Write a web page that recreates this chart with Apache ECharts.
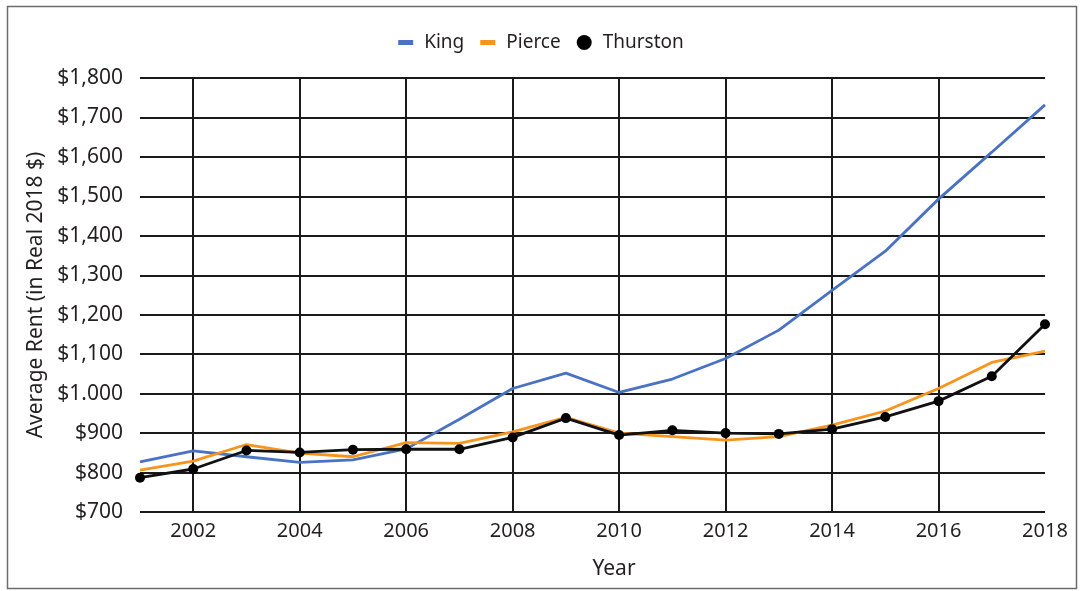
<!DOCTYPE html>
<html>
<head>
<meta charset="utf-8">
<script src="https://cdn.jsdelivr.net/npm/echarts@6/dist/echarts.min.js"></script>
<style>
  html, body { margin: 0; padding: 0; background: #fff; }
  #main { width: 1082px; height: 591px; }
</style>
</head>
<body>
<div id="main"></div>
<script>
// data
const years = [2001, 2002, 2003, 2004, 2005, 2006, 2007, 2008, 2009,
  2010, 2011, 2012, 2013, 2014, 2015, 2016, 2017, 2018];
const king = [827, 855, 840, 826, 832, 860, 935, 1013, 1052,
  1003, 1037, 1089, 1161, 1262, 1361, 1493, 1612, 1732];
const pierce = [806, 829, 871, 849, 840, 876, 874, 903, 940,
  900, 891, 882, 891, 920, 956, 1013, 1079, 1108];
const thurston = [787, 809, 856, 851, 858, 859, 859, 889, 938,
  895, 907, 900, 898, 910, 941, 981, 1044, 1176];
const yTicks = [700, 800, 900, 1000, 1100, 1200, 1300, 1400, 1500, 1600, 1700, 1800];
const yTickLabels = ["$700", "$800", "$900", "$1.000", "$1,100", "$1,200", "$1,300",
  "$1,400", "$1,500", "$1,600", "$1,700", "$1,800"];

const font = "Noto Sans";
const ink = "#231f20";
const gridInk = "#1a1a1a";

var myChart = echarts.init(document.getElementById("main"));

myChart.setOption({
  animation: false,
  textStyle: { fontFamily: font },
  graphic: [
    {
      type: "rect",
      shape: { x: 7.5, y: 6.5, width: 1069, height: 582 },
      style: { fill: "none", stroke: "#6b6b6b", lineWidth: 1.5 },
      silent: true,
    },
  ],
  legend: {
    top: 28,
    left: "center",
    itemGap: 16,
    itemWidth: 15,
    itemHeight: 15,
    textStyle: { fontFamily: font, fontSize: 19, color: ink, padding: [0, 0, 0, 6] },
    data: [
      { name: "King", icon: "path://M0,0h15v5h-15z" },
      { name: "Pierce", icon: "path://M0,0h15v5h-15z" },
      { name: "Thurston", icon: "circle" },
    ],
  },
  grid: {
    left: 140,
    right: 37,
    top: 78,
    bottom: 79,
  },
  xAxis: {
    type: "category",
    data: years,
    boundaryGap: false,
    name: "Year",
    nameLocation: "middle",
    nameGap: 47,
    nameTextStyle: { fontFamily: font, fontSize: 21, color: ink, padding: [0, 0, 0, 43] },
    axisLine: { show: false },
    axisTick: { show: false },
    axisLabel: {
      interval: function (i, v) { return v % 2 === 0; },
      margin: 9,
      fontFamily: font,
      fontSize: 20,
      color: ink,
    },
    splitLine: {
      show: true,
      interval: function (i, v) { return v % 2 === 0 && v < 2018; },
      lineStyle: { color: gridInk, width: 2 },
    },
  },
  yAxis: {
    type: "value",
    min: 700,
    max: 1800,
    interval: 100,
    name: "Average Rent (in Real 2018 $)",
    nameLocation: "middle",
    nameGap: 93,
    nameTextStyle: { fontFamily: font, fontSize: 21, color: ink },
    axisLine: { show: false },
    axisTick: { show: false },
    axisLabel: {
      margin: 17,
      fontFamily: font,
      fontSize: 21,
      color: ink,
      formatter: function (v) {
        return yTickLabels[yTicks.indexOf(v)];
      },
    },
    splitLine: { show: true, lineStyle: { color: gridInk, width: 2 } },
  },
  series: [
    {
      name: "King",
      type: "line",
      data: king,
      showSymbol: false,
      symbol: "none",
      itemStyle: { color: "#4a72c4" },
      lineStyle: { color: "#4a72c4", width: 2.8 },
    },
    {
      name: "Pierce",
      type: "line",
      data: pierce,
      showSymbol: false,
      symbol: "none",
      itemStyle: { color: "#f7941d" },
      lineStyle: { color: "#f7941d", width: 2.8 },
    },
    {
      name: "Thurston",
      type: "line",
      data: thurston,
      symbol: "circle",
      symbolSize: 10,
      clip: false,
      itemStyle: { color: "#000" },
      lineStyle: { color: "#111", width: 2.8 },
      z: 3,
    },
  ],
});
</script>
</body>
</html>
